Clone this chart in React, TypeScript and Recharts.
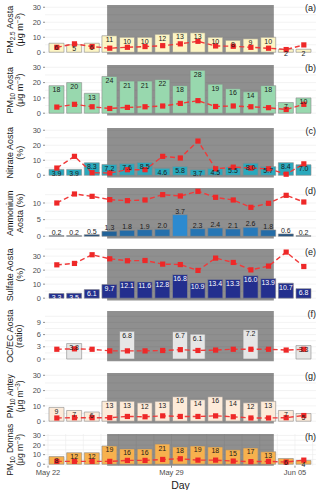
import React from 'react'
import {
  ComposedChart,
  Bar,
  Line,
  XAxis,
  YAxis,
  CartesianGrid,
  ReferenceArea,
  LabelList,
  Cell,
} from 'recharts'

// one bar per day, centred at noon
const DAYS = [
  'May 22', 'May 23', 'May 24', 'May 25', 'May 26', 'May 27', 'May 28', 'May 29',
  'May 30', 'May 31', 'Jun 01', 'Jun 02', 'Jun 03', 'Jun 04', 'Jun 05',
]
const X_TICKS = [0, 7, 14]
// shaded period, in days after May 22
const SHADED = [3.35, 12.8]

const pm25Aosta = [6, 5, 6, 11, 10, 10, 12, 13, 13, 10, 8, 9, 10, 2, 2]
const pm25Line = [3.3, 5.6, 3.8, 2.7, 3.3, 3.8, 4.4, 5.6, 7.3, 4.2, 4.0, 3.3, 2.7, 1.8, 4.9]

const pm10Aosta = [18, 20, 13, 24, 21, 21, 22, 18, 28, 19, 16, 14, 18, 7, 10]
const pm10Line = [4.0, 5.8, 4.2, 3.1, 3.8, 4.2, 4.7, 6.4, 8.2, 4.4, 4.7, 4.2, 3.6, 2.4, 5.8]

const nitrateConc = [3.9, 3.9, 8.3, 7.2, 7.6, 8.5, 4.6, 5.8, 3.7, 4.5, 5.5, 8.0, 5.7, 8.4, 7.0]
const nitratePct = [4.8, 12.6, 1.7, 1.5, 3.7, 3.7, 12.6, 11.5, 22.8, 4.3, 5.4, 4.8, 4.3, 0.7, 7.6]

const ammoniumConc = [0.2, 0.2, 0.5, 1.3, 1.8, 1.9, 2.0, 3.7, 2.3, 2.4, 2.1, 2.6, 1.8, 0.6, 0.2]
const ammoniumBar = [0.2, 0.2, 0.5, 1.5, 1.8, 2.0, 2.1, 6.5, 2.3, 2.5, 2.2, 2.7, 1.9, 0.7, 0.2]
const ammoniumPct = [10.0, 12.7, 12.0, 11.0, 10.7, 10.9, 12.5, 12.1, 13.5, 11.7, 10.9, 8.7, 9.9, 12.3, 10.3]

const sulfateConc = [3.3, 3.5, 6.1, 9.7, 12.1, 11.6, 12.8, 16.8, 10.9, 13.4, 13.3, 16.0, 13.9, 10.7, 6.8]
const sulfatePct = [23.8, 24.8, 31.0, 28.1, 26.7, 26.9, 24.3, 24.0, 19.8, 28.6, 25.5, 20.2, 22.9, 32.9, 22.6]

const ocEcBar = [null, 3.8, null, null, 6.8, null, null, 6.7, 6.1, null, null, 7.2, null, null, 3.3]
const ocEcLine = [2.4, 2.5, 2.4, 2.0, 2.0, 2.0, 2.1, 2.3, 2.1, 2.2, 2.4, 2.4, 2.4, 2.2, 2.4]

const pm10Antey = [9, 7, 6, 13, 13, 12, 13, 16, 14, 16, 14, 12, 13, 7, 5]
const anteyLine = [2.1, 2.3, 2.3, 2.3, 3.1, 2.9, 3.5, 3.1, 3.1, 3.5, 2.9, 2.1, 2.1, 2.3, 3.7]

const pm10Donnas = [8, 12, 12, 19, 16, 16, 21, 18, 19, 18, 15, 17, 13, 6, 4]
const donnasLine = [3.0, 3.0, 3.0, 3.0, 4.0, 4.0, 5.0, 5.7, 4.3, 4.3, 3.3, 2.7, 3.0, 2.3, 4.3]

const X_DOMAIN = [-0.17, 15.19]
const GRID_DAYS = Array.from({ length: DAYS.length + 1 }, (_, i) => i)
const FONT = "'Liberation Sans', Arial, sans-serif"

const rows = (bars: (number | null)[], line: number[], labels?: (number | null)[]) =>
  DAYS.map((_, i) => ({ x: i + 0.5, bar: bars[i], line: line[i], label: labels ? labels[i] : bars[i] }))

// ggplot-ish continuous blue fill for the ammonium bars
function blueFill(v: number) {
  const t = Math.pow(Math.max(0, Math.min(1, (v - 0.2) / 3.5)), 0.6)
  const a = [23, 58, 99]
  const b = [44, 138, 208]
  const c = a.map((x, i) => Math.round(x + (b[i] - x) * t))
  return `rgb(${c[0]},${c[1]},${c[2]})`
}

const squareDot = (p: any) => {
  if (p.cx == null || p.cy == null) return <g key={`d${p.index}`} />
  return <rect key={`d${p.index}`} x={p.cx - 2.6} y={p.cy - 2.6} width={5.2} height={5.2} fill="#EE2828" />
}

const Sub = ({ t }: { t: string }) => (
  <>
    <tspan dy={2} fontSize={6.3}>{t}</tspan>
    <tspan dy={-2}>{'\u200A'}</tspan>
  </>
)
const UG = (
  <>
    (μg m<tspan dy={-3} fontSize={6.3}>−3</tspan><tspan dy={3}>)</tspan>
  </>
)

type Cfg = {
  letter: string
  top: number
  plotH: number
  domain: number[]
  ticks: number[]
  minor: number[]
  data: any[]
  fill: string
  labelFill: string
  labelPos: 'insideTop' | 'top'
  digits: number
  title1: React.ReactNode
  title2: React.ReactNode
  titleSize?: number
  titleShift?: number
  cells?: string[]
  bottom?: boolean
}

const PANELS: Cfg[] = [
  {
    letter: '(a)', top: 4.5, plotH: 49.5, domain: [-1.5, 31.5], ticks: [0, 10, 20, 30], minor: [5, 15, 25],
    data: rows(pm25Aosta, pm25Line), fill: '#FDF5C4', labelFill: '#1a1a1a', labelPos: 'insideTop', digits: 0,
    title1: <>PM<Sub t="2.5" /> Aosta</>, title2: UG,
  },
  {
    letter: '(b)', top: 65, plotH: 50.5, domain: [-1.5, 31.5], ticks: [0, 10, 20, 30], minor: [5, 15, 25],
    data: rows(pm10Aosta, pm10Line), fill: '#98D8AE', labelFill: '#1a1a1a', labelPos: 'insideTop', digits: 0,
    title1: <>PM<Sub t="10" /> Aosta</>, title2: UG,
  },
  {
    letter: '(c)', top: 127.5, plotH: 49.5, domain: [-1.5, 31.5], ticks: [0, 10, 20, 30], minor: [5, 15, 25],
    data: rows(nitrateConc, nitratePct), fill: '#2AA9BD', labelFill: '#1a1a1a', labelPos: 'insideTop', digits: 1,
    title1: 'Nitrate Aosta', title2: '(%)',
  },
  {
    letter: '(d)', top: 188, plotH: 50.6, domain: [-0.69, 14.5], ticks: [0, 5, 10], minor: [2.5, 7.5, 12.5],
    data: rows(ammoniumBar, ammoniumPct, ammoniumConc), fill: '#2B7BBF', labelFill: '#1a1a1a', labelPos: 'top', digits: 1,
    title1: 'Ammonium', title2: 'Aosta (%)', cells: ammoniumConc.map(blueFill),
  },
  {
    letter: '(e)', top: 249.3, plotH: 51.5, domain: [-1.67, 35.1], ticks: [0, 10, 20, 30], minor: [5, 15, 25, 35],
    data: rows(sulfateConc, sulfatePct), fill: '#232F8E', labelFill: '#ffffff', labelPos: 'insideTop', digits: 1,
    title1: 'Sulfate Aosta', title2: '(%)',
  },
  {
    letter: '(f)', top: 311, plotH: 50.3, domain: [-0.56, 11.8], ticks: [0, 3, 6, 9], minor: [1.5, 4.5, 7.5, 10.5],
    data: rows(ocEcBar, ocEcLine), fill: '#E6E6E6', labelFill: '#1a1a1a', labelPos: 'insideTop', digits: 1,
    title1: 'OC/EC Aosta', title2: '(ratio)',
  },
  {
    letter: '(g)', top: 372.5, plotH: 50.5, domain: [-1.5, 31.5], ticks: [0, 10, 20, 30], minor: [5, 15, 25],
    data: rows(pm10Antey, anteyLine), fill: '#FDEBD9', labelFill: '#1a1a1a', labelPos: 'insideTop', digits: 0,
    title1: <>PM<Sub t="10" /> Antey</>, title2: UG, titleSize: 8.5, titleShift: -2,
  },
  {
    letter: '(h)', top: 433.5, plotH: 31.7, domain: [-1.5, 31.5], ticks: [0, 10, 20, 30], minor: [5, 15, 25],
    data: rows(pm10Donnas, donnasLine), fill: '#F7B14E', labelFill: '#1a1a1a', labelPos: 'insideTop', digits: 0,
    title1: <>PM<Sub t="10" /> Donnas</>, title2: UG, titleSize: 8.5, titleShift: 0, bottom: true,
  },
]

function Panel({ cfg }: { cfg: Cfg }) {
  const xh = cfg.bottom ? 25 : 4
  // the short bottom panel needs room above for its rotated title
  const mt = cfg.bottom ? 14 : 3
  const H = cfg.plotH + mt + xh
  const cy = mt + cfg.plotH / 2 + (cfg.titleShift ?? 0)
  const title = () => (
    <g fill="#1a1a1a" fontSize={cfg.titleSize ?? 9}>
      <text x={9.5} y={cy} transform={`rotate(-90, 9.5, ${cy})`} textAnchor="middle" dominantBaseline="central">
        {cfg.title1}
      </text>
      <text x={19.5} y={cy} transform={`rotate(-90, 19.5, ${cy})`} textAnchor="middle" dominantBaseline="central">
        {cfg.title2}
      </text>
    </g>
  )
  return (
    <div style={{ position: 'absolute', left: 0, top: cfg.top - mt, width: 320, height: H }}>
      <ComposedChart width={320} height={H} data={cfg.data} margin={{ top: mt, right: 4, bottom: 0, left: 0 }}>
        <CartesianGrid
          stroke="#ebebeb"
          strokeWidth={0.6}
          verticalValues={GRID_DAYS}
          horizontalValues={[...cfg.ticks, ...cfg.minor]}
        />
        <XAxis
          type="number"
          dataKey="x"
          domain={X_DOMAIN}
          ticks={X_TICKS}
          interval={0}
          allowDataOverflow
          height={xh}
          axisLine={false}
          tickSize={2}
          tickMargin={2}
          tickLine={{ stroke: '#444', strokeWidth: 0.6 }}
          tick={cfg.bottom ? { fontSize: 7.5, fill: '#4d4d4d' } : false}
          tickFormatter={(v: number) => DAYS[v] ?? ''}
          label={cfg.bottom ? { value: 'Day', position: 'insideBottom', offset: 2, fontSize: 10.5, fill: '#1a1a1a' } : undefined}
        />
        <YAxis
          type="number"
          domain={cfg.domain}
          ticks={cfg.ticks}
          interval={0}
          allowDataOverflow
          width={45}
          axisLine={false}
          tickSize={2}
          tickMargin={2}
          tickLine={{ stroke: '#444', strokeWidth: 0.6 }}
          tick={{ fontSize: 7.5, fill: '#4d4d4d' }}
          label={title}
        />
        <ReferenceArea x1={SHADED[0]} x2={SHADED[1]} fill="#000" fillOpacity={0.44} strokeOpacity={0} />
        <Bar dataKey="bar" barSize={15} fill={cfg.fill} stroke="#8a8a8a" strokeWidth={0.6} isAnimationActive={false}>
          {cfg.cells && cfg.cells.map((c, i) => <Cell key={i} fill={c} />)}
          <LabelList
            dataKey="label"
            position={cfg.labelPos}
            offset={cfg.labelPos === 'top' ? 1 : 1.5}
            fontSize={7}
            fill={cfg.labelFill}
            formatter={(v: any) => (v == null ? '' : Number(v).toFixed(cfg.digits))}
          />
        </Bar>
        <Line
          dataKey="line"
          stroke="#F03A3A"
          strokeWidth={1.4}
          strokeDasharray="5 3"
          dot={squareDot}
          activeDot={false}
          isAnimationActive={false}
        />
      </ComposedChart>
      <span style={{ position: 'absolute', right: 4, top: mt - 1, fontSize: 9, color: '#1a1a1a', lineHeight: 1 }}>
        {cfg.letter}
      </span>
    </div>
  )
}

export default function App() {
  return (
    <div style={{ position: 'absolute', left: 0, top: 0, width: 320, height: 492, background: '#fff', fontFamily: FONT }}>
      {PANELS.map((p) => (
        <Panel key={p.letter} cfg={p} />
      ))}
    </div>
  )
}
